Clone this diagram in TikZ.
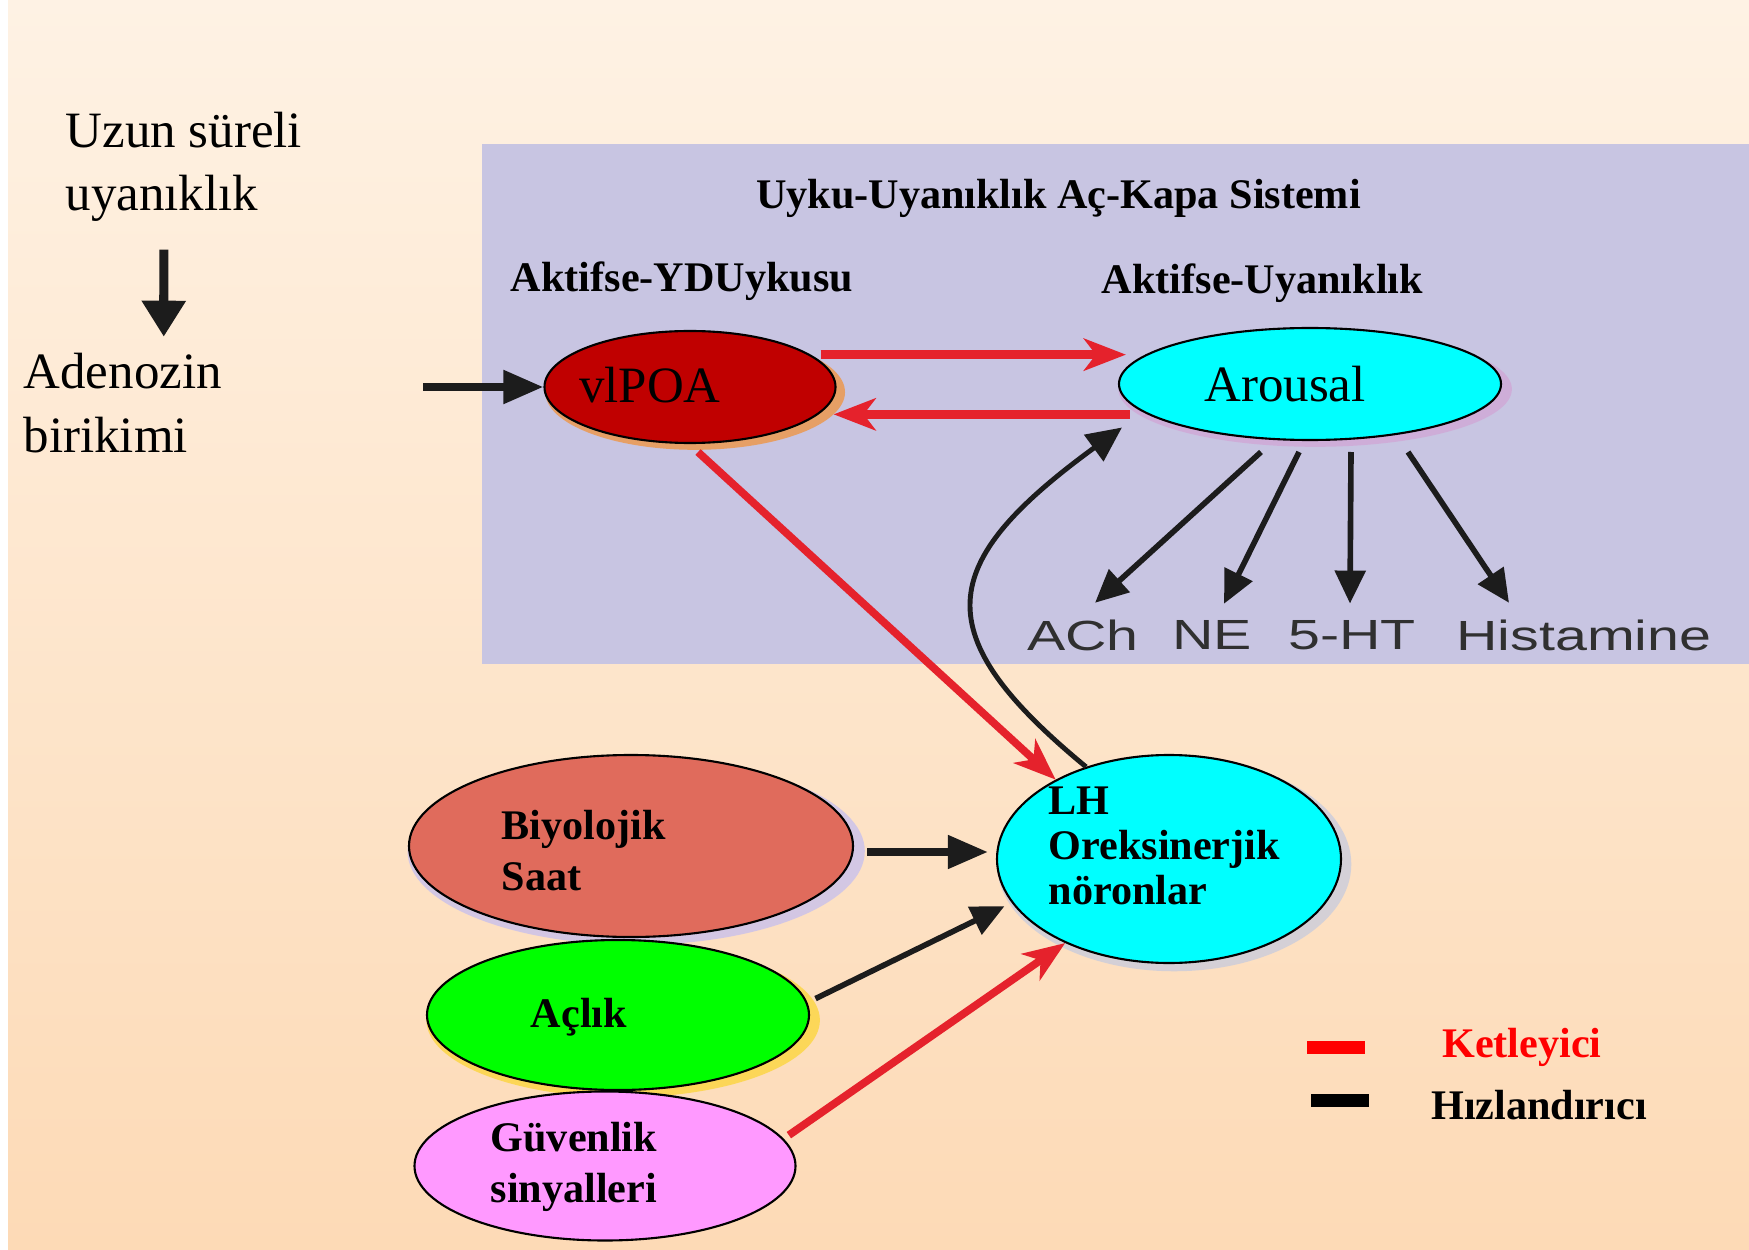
\documentclass[tikz,border=0pt]{standalone}
\usepackage{fontspec}
\setmainfont{Liberation Serif}
\setsansfont{Liberation Sans}
\usepackage{graphicx}
\usetikzlibrary{arrows.meta,shapes.geometric,shadows,positioning}

\definecolor{bgtop}{HTML}{FEF2E4}
\definecolor{bgbot}{HTML}{FDDAB6}
\definecolor{boxlav}{HTML}{C8C5E2}
\definecolor{inhred}{HTML}{E5222C}
\definecolor{actblk}{HTML}{1C1C1C}
\definecolor{poared}{HTML}{C00000}
\definecolor{cyanfill}{HTML}{00FFFF}
\definecolor{saatfill}{HTML}{E06B5C}
\definecolor{aclikfill}{HTML}{00FF00}
\definecolor{guvfill}{HTML}{FF99FF}
\definecolor{ntgray}{HTML}{303030}
\definecolor{pinkglow}{HTML}{D49AD0}

\newcommand{\wide}[1]{\scalebox{1.36}[1]{#1}}

\begin{document}
\begin{tikzpicture}[
    cell/.style={ellipse, draw=black, line width=.6pt, inner sep=0pt},
    glow/.style={drop shadow={fill=#1, opacity=.55, shadow xshift=.5mm, shadow yshift=-.5mm, shadow scale=1.03}},
    lbl/.style={font=\fontsize{12}{14.5}\selectfont\bfseries, inner sep=0pt, align=left},
    big/.style={font=\fontsize{14.5}{18}\selectfont, inner sep=0pt, align=left},
    nt/.style={font=\sffamily\fontsize{12}{14}\selectfont, text=ntgray, inner sep=0pt},
    act/.style={draw=actblk, line width=1.6pt, -{Triangle[length=3.3mm,width=3mm]}},
    inh/.style={draw=inhred, line width=2.7pt, -{Stealth[length=4.2mm,width=3.2mm,inset=1.2mm]}},
  ]
  % zemin
  \useasboundingbox (0,0) rectangle (17.49,12.49);
  \fill[white] (0,0) rectangle (17.49,12.49);
  \shade[top color=bgtop, bottom color=bgbot] (0.08,0) rectangle (17.49,12.49);
  \fill[boxlav] (4.82,5.85) rectangle (17.49,11.05);

  % sol taraf
  \node[big, anchor=west] (uzun) at (0.65,10.82) {Uzun süreli\\uyanıklık};
  \node[big, anchor=west] (adenozin) at (0.23,8.46) {Adenozin\\birikimi};
  \coordinate (adIn) at (4.23,8.62);

  % sistem başlıkları
  \node[lbl] (title) at (10.585,10.51) {Uyku-Uyanıklık Aç-Kapa Sistemi};
  \node[lbl] (ydu) at (6.82,9.68) {Aktifse-YDUykusu};
  \node[lbl] (uyan) at (12.625,9.66) {Aktifse-Uyanıklık};

  % hücre grupları
  \node[cell, glow=orange, fill=poared, minimum width=2.91cm, minimum height=1.12cm] (vlpoa) at (6.90,8.62) {};
  \node[big] (vlpoaT) at ([xshift=-4mm,yshift=.2mm]vlpoa) {vlPOA};
  \node[cell, glow=pinkglow, fill=cyanfill, minimum width=3.82cm, minimum height=1.12cm] (arousal) at (13.10,8.65) {};
  \node[big] (arousalT) at ([xshift=-2.5mm]arousal) {Arousal};
  \node[cell, glow=cyan!45!blue!30, fill=cyanfill, minimum width=3.44cm, minimum height=2.08cm] (lh) at (11.69,3.90) {};
  \node[lbl, font=\fontsize{12}{12.8}\selectfont\bfseries, anchor=west] (lhT) at (10.48,4.03) {LH\\Oreksinerjik\\nöronlar};
  \node[cell, glow=blue!30, fill=saatfill, minimum width=4.44cm, minimum height=1.82cm] (saat) at (6.31,4.03) {};
  \node[lbl, anchor=west] (saatT) at (5.01,3.98) {Biyolojik\\Saat};
  \node[cell, glow=yellow!70!orange, fill=aclikfill, minimum width=3.82cm, minimum height=1.50cm] (aclik) at (6.18,2.34) {};
  \node[lbl] (aclikT) at (5.79,2.32) {Açlık};
  \node[cell, fill=guvfill, minimum width=3.81cm, minimum height=1.49cm] (guv) at (6.05,0.83) {};
  \node[lbl, anchor=west] (guvT) at (4.90,0.825) {Güvenlik\\sinyalleri};

  % nörotransmitterler
  \foreach \nm/\lx/\txt in {ach/10.83/ACh, ne/12.12/NE, ht/13.52/5-HT, his/15.84/Histamine}
    \node[nt] (\nm) at (\lx,6.14) {\wide{\txt}};
  \foreach \nm/\a/\d in {ach/-0.49/0.12, ne/-0.11/0.12, ht/0.41/-0.02, his/0.98/-0.75}
    \draw[act] ([shift={(\a,-0.68)}]arousal.center) -- ([shift={(\d,0.16)}]\nm.north);

  % bağlantılar
  \draw[act, line width=2.6pt, -{Triangle[length=3.6mm,width=4.2mm]}] ([xshift=-2mm,yshift=-2.7mm]uzun.south) -- ([xshift=4.1mm,yshift=1.6mm]adenozin.north);
  \draw[act, line width=2.3pt, -{Triangle[length=4mm,width=3.2mm]}] (adIn) -- (vlpoa.west);
  \draw[inh] ([xshift=1mm]vlpoa.15) -- ([xshift=.8mm]vlpoa.15 -| arousal.west);
  \draw[inh] ([xshift=1.2mm]arousal.west |- vlpoa.-12) -- ([xshift=1.5mm]vlpoa.-12);
  \draw[inh, line width=2.2pt] ([xshift=.8mm,yshift=-.8mm]vlpoa.south) -- (lh.145);
  \draw[act, line width=1.4pt, -{Triangle[length=3.5mm,width=3.2mm]}] (lh.132) .. controls (9.25,6.15) and (9.35,6.85) .. ([shift={(0.04,-0.435)}]arousal.west);
  \draw[act, line width=2.2pt, -{Triangle[length=4mm,width=3.2mm]}] ([xshift=1.3mm,yshift=-.6mm]saat.east) -- ([xshift=-.8mm,yshift=-.6mm]saat.east -| lh.west);
  \draw[act] ([xshift=1mm]aclik.5) -- ([xshift=-1mm]lh.197);
  \draw[inh, line width=2.2pt] ([xshift=.9mm]guv.10) -- (lh.219);

  % açıklama
  \node[lbl, text=red] (ket) at (15.22,2.02) {Ketleyici};
  \node[lbl] (hiz) at (15.39,1.44) {Hızlandırıcı};
  \draw[red, line width=1.3mm] ([xshift=-7.7mm]ket.west) -- ++(-5.8mm,0);
  \draw[black, line width=1.3mm] ([xshift=-6.2mm,yshift=.5mm]hiz.west) -- ++(-5.8mm,0);
\end{tikzpicture}
\end{document}
